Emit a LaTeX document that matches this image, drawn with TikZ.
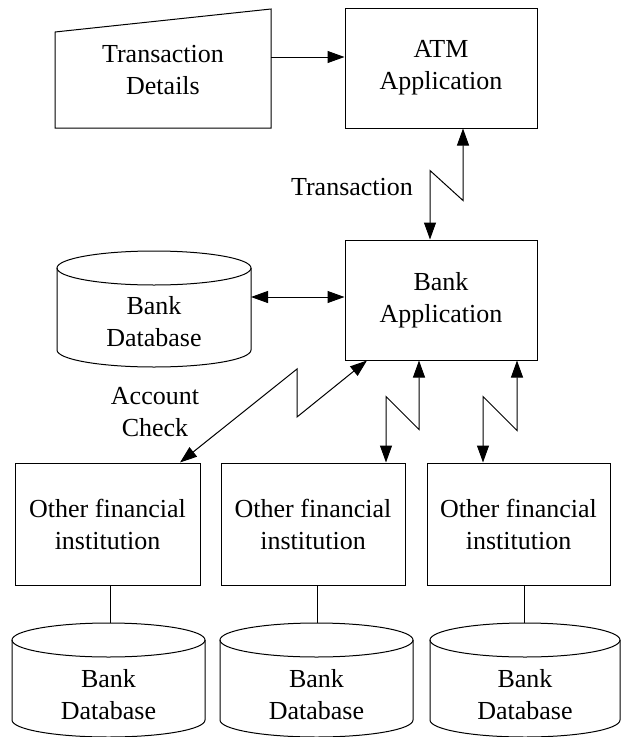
\documentclass[tikz,border=0pt]{standalone}
\usepackage{fontspec}
\setmainfont{Liberation Serif}
\usetikzlibrary{arrows.meta,calc}
\newcommand\mycyl[4]{% center x, x radius, top y, bottom y
  \draw[shp] ({#1-#2},#3) -- ({#1-#2},#4) arc[start angle=180,end angle=360,x radius=#2pt,y radius=17pt] -- ({#1+#2},#3);
  \draw[shp] (#1,#3) ellipse[x radius=#2pt,y radius=17pt];
}
\tikzset{
  shp/.style={draw=black,line width=1pt},
  box/.style={shp,rectangle,inner sep=0pt,align=center},
  txt/.style={inner sep=0pt,align=center},
  dbl/.style={line width=1pt,{Triangle[length=17pt,width=12pt]}-{Triangle[length=17pt,width=12pt]}},
  sgl/.style={line width=1pt,-{Triangle[length=17pt,width=12pt]}},
  plain/.style={line width=1pt}
}
\begin{document}
\begin{tikzpicture}[x=1pt,y=-1pt,font=\fontsize{26}{32}\selectfont]
\useasboundingbox (0,0) rectangle (621,737);
\fill[white] (0,0) rectangle (621,737);
\clip (0,0) rectangle (621,737);
% Transaction details (manual input)
\draw[shp] (55,32) -- (271,9) -- (271,128) -- (55,128) -- cycle;
\node[txt] (td) at (163,70) {Transaction\\Details};
\coordinate (tdout) at (271,57);
% boxes
\node[box,minimum width=192pt,minimum height=120pt] (atm) at (441,68) {ATM\\Application};
\node[box,minimum width=192pt,minimum height=120pt] (bank) at (441,300) {Bank\\Application};
\node[box,minimum width=185pt,minimum height=122pt] (fi1) at (107.5,524) {Other financial\\institution};
\node[box,minimum width=184pt,minimum height=122pt] (fi2) at (313,524) {Other financial\\institution};
\node[box,minimum width=183pt,minimum height=122pt] (fi3) at (518.5,524) {Other financial\\institution};
% databases
\mycyl{154}{97}{268}{350}
\node[txt] (db0) at (154,322) {Bank\\Database};
\coordinate (db0e) at (251,297);
\mycyl{108.5}{96.5}{640}{720}
\node[txt] (db1) at (108.5,695) {Bank\\Database};
\coordinate (db1t) at (110,623);
\mycyl{316.5}{96.5}{640}{720}
\node[txt] (db2) at (316.5,695) {Bank\\Database};
\coordinate (db2t) at (317,623);
\mycyl{525}{95}{640}{720}
\node[txt] (db3) at (525,695) {Bank\\Database};
\coordinate (db3t) at (524,623);
% labels
\node[txt] (lt) at (352,187) {Transaction};
\node[txt] (la) at (155,412) {Account\\Check};
% connectors
\draw[sgl] (tdout) -- (atm.west |- tdout);
\draw[dbl] ([xshift=22pt]atm.south) -- ++(0,72) -- ++(-33,-30) -- ([xshift=-11pt]bank.north);
\draw[dbl] (db0e) -- (bank.west |- db0e);
\draw[dbl] ([xshift=-74pt]bank.south) -- (297,417) -- (297,369) -- ([xshift=72.5pt]fi1.north);
\draw[dbl] ([xshift=-22pt]bank.south) -- ++(0,69) -- ++(-33,-33) -- ([xshift=73pt]fi2.north);
\draw[dbl] ([xshift=76pt]bank.south) -- ++(0,70) -- ++(-34,-34) -- ([xshift=-35.5pt]fi3.north);
\draw[plain] (fi1.south -| db1t) -- (db1t);
\draw[plain] (fi2.south -| db2t) -- (db2t);
\draw[plain] (fi3.south -| db3t) -- (db3t);
\end{tikzpicture}
\end{document}
